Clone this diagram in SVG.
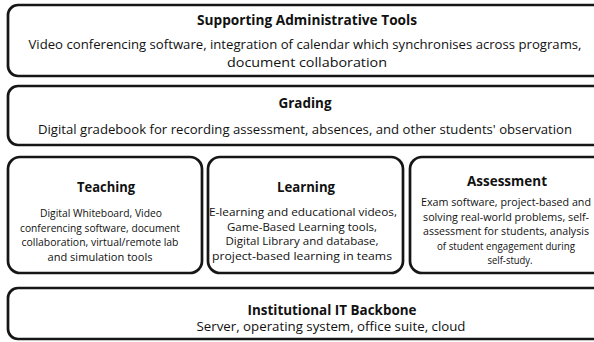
<svg xmlns="http://www.w3.org/2000/svg" width="594" height="342" viewBox="0 0 594 342">
  <style>
    .box { fill: #ffffff; stroke: #161616; stroke-width: 2.7; }
    text { font-family: "Open Sans", "Liberation Sans", sans-serif; fill: #111111; text-anchor: middle; }
    .t { font-weight: bold; font-size: 14.2px; }
    .b { font-size: 13.2px; }
    .s { font-size: 11.2px; }
  </style>
  <rect width="594" height="342" fill="#ffffff"/>

  <g id="admin-tools">
    <rect class="box" x="8" y="5" width="604" height="71" rx="10"/>
    <text class="t" x="307" y="25" textLength="220" lengthAdjust="spacingAndGlyphs">Supporting Administrative Tools</text>
    <text class="b" x="305" y="49" textLength="553" lengthAdjust="spacingAndGlyphs">Video conferencing software, integration of calendar which synchronises across programs,</text>
    <text class="b" x="307" y="67" textLength="160" lengthAdjust="spacingAndGlyphs">document collaboration</text>
  </g>

  <g id="grading">
    <rect class="box" x="8" y="86" width="604" height="59" rx="10"/>
    <text class="t" x="305" y="108" textLength="53" lengthAdjust="spacingAndGlyphs">Grading</text>
    <text class="b" x="305" y="134" textLength="534" lengthAdjust="spacingAndGlyphs">Digital gradebook for recording assessment, absences, and other students' observation</text>
  </g>

  <g id="teaching">
    <rect class="box" x="8" y="157" width="194" height="116" rx="12"/>
    <text class="t" x="106" y="192" textLength="58" lengthAdjust="spacingAndGlyphs">Teaching</text>
    <text class="s" x="101" y="217" textLength="122" lengthAdjust="spacingAndGlyphs">Digital Whiteboard, Video</text>
    <text class="s" x="100" y="231.5" textLength="160" lengthAdjust="spacingAndGlyphs">conferencing software, document</text>
    <text class="s" x="100" y="246" textLength="157" lengthAdjust="spacingAndGlyphs">collaboration, virtual/remote lab</text>
    <text class="s" x="100" y="260.5" textLength="105" lengthAdjust="spacingAndGlyphs">and simulation tools</text>
  </g>

  <g id="learning">
    <rect class="box" x="208" y="157" width="195" height="116" rx="12"/>
    <text class="t" x="306" y="192" textLength="58" lengthAdjust="spacingAndGlyphs">Learning</text>
    <text class="s" x="303" y="216" textLength="188" lengthAdjust="spacingAndGlyphs">E-learning and educational videos,</text>
    <text class="s" x="302" y="230.5" textLength="150" lengthAdjust="spacingAndGlyphs">Game-Based Learning tools,</text>
    <text class="s" x="302" y="245" textLength="153" lengthAdjust="spacingAndGlyphs">Digital Library and database,</text>
    <text class="s" x="302" y="259.5" textLength="180" lengthAdjust="spacingAndGlyphs">project-based learning in teams</text>
  </g>

  <g id="assessment">
    <rect class="box" x="410" y="157" width="204" height="116" rx="12"/>
    <text class="t" x="507" y="186" textLength="80" lengthAdjust="spacingAndGlyphs">Assessment</text>
    <text class="s" x="506" y="206" textLength="170" lengthAdjust="spacingAndGlyphs">Exam software, project-based and</text>
    <text class="s" x="506" y="220.5" textLength="166" lengthAdjust="spacingAndGlyphs">solving real-world problems, self-</text>
    <text class="s" x="506" y="235" textLength="166" lengthAdjust="spacingAndGlyphs">assessment for students, analysis</text>
    <text class="s" x="506" y="249.5" textLength="138" lengthAdjust="spacingAndGlyphs">of student engagement during</text>
    <text class="s" x="510" y="264" textLength="45" lengthAdjust="spacingAndGlyphs">self-study.</text>
  </g>

  <g id="it-backbone">
    <rect class="box" x="8" y="288" width="650" height="51" rx="10"/>
    <text class="t" x="332" y="315" textLength="169" lengthAdjust="spacingAndGlyphs">Institutional IT Backbone</text>
    <text class="b" x="331" y="331" textLength="269" lengthAdjust="spacingAndGlyphs">Server, operating system, office suite, cloud</text>
  </g>

  <g id="connectors"></g>
</svg>
